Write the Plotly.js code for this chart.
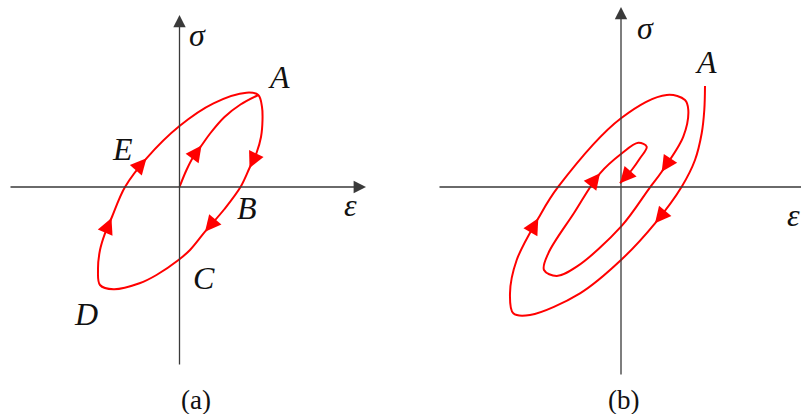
<!DOCTYPE html>
<html>
<head>
<meta charset="utf-8">
<script src="https://cdn.plot.ly/plotly-3.0.1.min.js"></script>
<style>
  html, body { margin: 0; padding: 0; background: #ffffff; }
  #chart { width: 801px; height: 414px; }
</style>
</head>
<body>
<div id="chart"></div>
<script>
// Panel (a): initial loading O -> A, then the closed loop A-B-C-D-E-A (strain, stress)
const loadEps = [0, 7, 14, 22, 31, 45, 61, 78.8];
const loadSig = [0, 17, 30.5, 41.5, 54, 70, 82.5, 92];

const loopEps = [78.8, 82.5, 83, 81.5, 77, 70, 61, 45, 25.5, 10.5, -1, -23, -40, -66, -79.5, -81.5, -79.5, -74.5, -68, -54.5, -33, 0, 34, 67, 78.8];
const loopSig = [92, 80, 67, 50, 34, 19, 0, -22, -44.7, -63, -73, -88, -96.3, -102.3, -98, -83, -63, -46.3, -31, 0, 28.7, 61, 83.7, 94.3, 92];

// Panel (b): decaying spiral starting at A
const spiralEps = [84, 83.3, 80.7, 74, 60.7, 34, 0, -41, -91, -107.7, -111, -104.3, -82.7, -62.7, 0, 45.7, 64, 67.3, 62.3, 40.7, 29, 0, -44.3, -64.3, -77, -72.7, -47, -21, 0, 17.3, 25.7, 19, 10.7, -1];
const spiralSig = [101, 77, 53.7, 27, 0.3, -36.3, -73, -106.3, -128, -126.3, -106.3, -73, -31.3, 0.3, 68.7, 92, 87, 77, 50.3, 15.3, -0.3, -39.7, -79.7, -89, -83, -66.3, -26, 13.7, 33, 44.3, 40.3, 28.7, 17, 3.7];

// which points along each path carry a direction arrow
const loadArrows = [3];
const loopArrows = [5, 8, 18, 20];
const spiralArrows = [5, 12, 19, 27, 33];

// point labels
const labelsA = [
  {t: 'σ', x: 17.5, y: 152},
  {t: 'A', x: 99.5, y: 110},
  {t: 'E', x: -57.5, y: 38},
  {t: 'B', x: 67.5, y: -21},
  {t: 'C', x: 24.5, y: -91},
  {t: 'D', x: -93.5, y: -127},
  {t: 'ε', x: 170.5, y: -18}
];
const labelsB = [
  {t: 'σ', x: 24, y: 159},
  {t: 'A', x: 85, y: 125},
  {t: 'ε', x: 172, y: -28}
];
const captions = [
  {t: '(a)', xref: 'x', yref: 'y', x: 16.5, y: -226},
  {t: '(b)', xref: 'x2', yref: 'y2', x: 2, y: -226}
];

const RED = '#ff0000';
const AXIS = '#3a3a3a';

function curve(xs, ys, xa, ya) {
  return {
    x: xs, y: ys, xaxis: xa, yaxis: ya, type: 'scatter', mode: 'lines',
    line: {color: RED, width: 2, shape: 'spline', smoothing: 1},
    hoverinfo: 'skip', showlegend: false, cliponaxis: false
  };
}

// arrowhead pointing along the path direction at point i
function arrowAt(xs, ys, i, xref, yref) {
  const j0 = Math.max(i - 1, 0), j1 = Math.min(i + 1, xs.length - 1);
  let dx = xs[j1] - xs[j0], dy = ys[j1] - ys[j0];
  const L = Math.hypot(dx, dy);
  dx /= L; dy /= L;
  return {
    x: xs[i], y: ys[i], ax: xs[i] - dx * 12, ay: ys[i] - dy * 12,
    xref: xref, yref: yref, axref: xref, ayref: yref,
    showarrow: true, arrowhead: 2, arrowsize: 1.6, arrowwidth: 2,
    arrowcolor: RED, standoff: 0, text: ''
  };
}

function axisArrow(x0, y0, x1, y1, xref, yref) {
  return {
    x: x1, y: y1, ax: x0, ay: y0,
    xref: xref, yref: yref, axref: xref, ayref: yref,
    showarrow: true, arrowhead: 2, arrowsize: 1.9, arrowwidth: 1.3,
    arrowcolor: AXIS, standoff: 0, text: ''
  };
}

function label(l, xref, yref) {
  return {
    x: l.x, y: l.y, xref: xref, yref: yref, showarrow: false,
    text: '<i>' + l.t + '</i>',
    font: {family: 'Liberation Serif, DejaVu Serif, serif', size: 32, color: '#111111'},
    xanchor: 'center', yanchor: 'middle'
  };
}

const traces = [
  curve(loadEps, loadSig, 'x', 'y'),
  curve(loopEps, loopSig, 'x', 'y'),
  curve(spiralEps, spiralSig, 'x2', 'y2')
];

const annotations = [];
// coordinate axes with arrow tips (the right-hand axis runs past the page edge)
annotations.push(axisArrow(-170.5, 0, 186.5, 0, 'x', 'y'));
annotations.push(axisArrow(0, -179, 0, 172, 'x', 'y'));
annotations.push({
  x: 205, y: 0, ax: -183, ay: 0, xref: 'x2', yref: 'y2', axref: 'x2', ayref: 'y2',
  showarrow: true, arrowhead: 0, arrowwidth: 1.3, arrowcolor: AXIS, standoff: 0, text: ''
});
annotations.push(axisArrow(0, -189, 0, 180, 'x2', 'y2'));

loadArrows.forEach(i => annotations.push(arrowAt(loadEps, loadSig, i, 'x', 'y')));
loopArrows.forEach(i => annotations.push(arrowAt(loopEps, loopSig, i, 'x', 'y')));
spiralArrows.forEach(i => annotations.push(arrowAt(spiralEps, spiralSig, i, 'x2', 'y2')));

labelsA.forEach(l => annotations.push(label(l, 'x', 'y')));
labelsB.forEach(l => annotations.push(label(l, 'x2', 'y2')));
captions.forEach(c => annotations.push({
  x: c.x, y: c.y, xref: c.xref, yref: c.yref, showarrow: false, text: c.t,
  font: {family: 'Liberation Serif, DejaVu Serif, serif', size: 27, color: '#111111'},
  xanchor: 'center', yanchor: 'bottom', borderpad: 0, yshift: -3
}));

const hidden = {visible: false, fixedrange: true, showgrid: false, zeroline: false};

const layout = {
  width: 801, height: 414,
  margin: {l: 0, r: 0, t: 0, b: 0, pad: 0},
  paper_bgcolor: '#ffffff', plot_bgcolor: '#ffffff',
  showlegend: false,
  xaxis: Object.assign({domain: [0, 400 / 801], range: [-179.5, 220.5], anchor: 'y'}, hidden),
  yaxis: Object.assign({domain: [0, 1], range: [-227, 187], anchor: 'x'}, hidden),
  xaxis2: Object.assign({domain: [420 / 801, 1], range: [-201, 180], anchor: 'y2'}, hidden),
  yaxis2: Object.assign({domain: [0, 1], range: [-227, 187], anchor: 'x2'}, hidden),
  annotations: annotations
};

Plotly.newPlot('chart', traces, layout, {staticPlot: true, displayModeBar: false});
</script>
</body>
</html>
